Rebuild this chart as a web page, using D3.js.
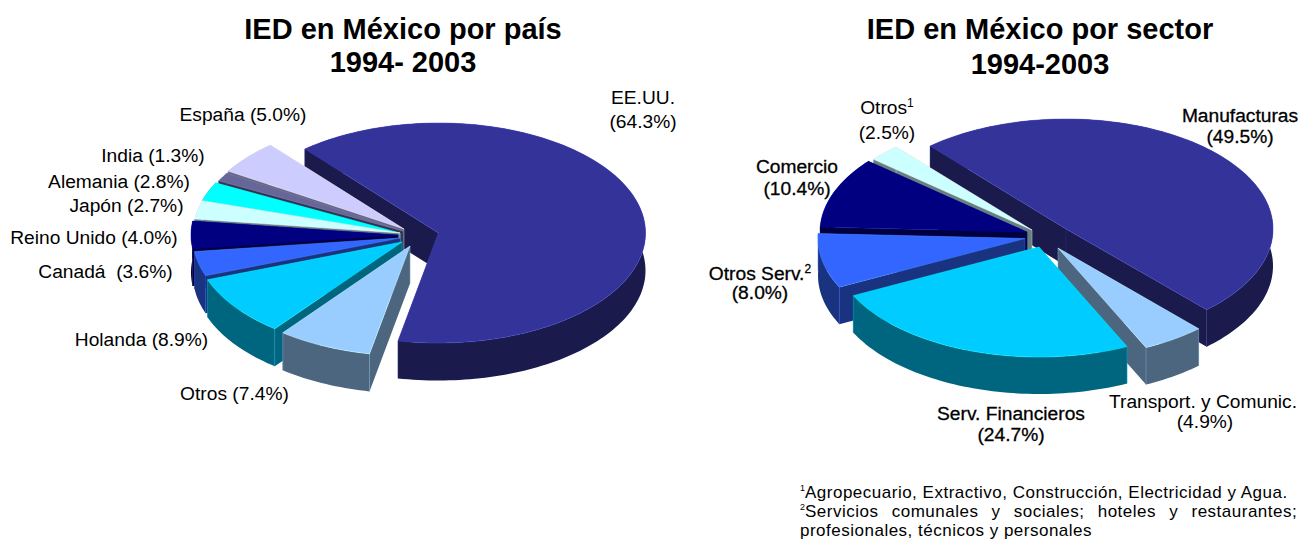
<!DOCTYPE html>
<html>
	<head>
		<script src="https://cdn.jsdelivr.net/npm/d3@7"></script>
		<style>
html, body {
	margin: 0;
	background-color: white;
}

svg {
	display: block;
}

text {
	font-family: "Liberation Sans", Arial, sans-serif;
	fill: black;
	text-anchor: middle;
	white-space: pre;
}

text.title {
	font-size: 29px;
	font-weight: bold;
}

text.label {
	font-size: 19.2px;
}

text.strong {
	stroke: black;
	stroke-width: 0.3px;
}

text.note {
	font-size: 17px;
	letter-spacing: 0.5px;
	text-anchor: start;
}
		</style>
	</head>
	<body>
		<script>

// IED por pais, 1994-2003
var paisNombres = ["EE.UU.", "Otros", "Holanda", "Canadá", "Reino Unido", "Japón", "Alemania", "India", "España"];
var paisValores = [64.3, 7.4, 8.9, 3.6, 4.0, 2.7, 2.8, 1.3, 5.0];

// IED por sector, 1994-2003
var sectorNombres = ["Manufacturas", "Transport. y Comunic.", "Serv. Financieros", "Otros Serv.", "Comercio", "Otros"];
var sectorValores = [49.5, 4.9, 24.7, 8.0, 10.4, 2.5];

var paisTop = ["#333399", "#99ccff", "#00ccff", "#3366ff", "#000080", "#ccffff", "#00ffff", "#666699", "#ccccff"];
var paisSide = ["#1a1a4d", "#4d667f", "#006680", "#1a3380", "#000040", "#668080", "#008080", "#33334d", "#66667f"];
var sectorTop = ["#333399", "#99ccff", "#00ccff", "#3366ff", "#000080", "#ccffff"];
var sectorSide = ["#1a1a4d", "#4d667f", "#006680", "#1a3380", "#000040", "#668080"];

var w = 1301;
var h = 540;

var svg = d3.select("body").append("svg")
	.attr("width", w)
	.attr("height", h);

var line = d3.line();

// one pie: d3.pie gives the angles, the ellipse scales project them
function drawPie(o) {
	var arcs = d3.pie().sort(null)
		.startAngle(o.start * Math.PI / 180)
		.endAngle((o.start + 360) * Math.PI / 180)(o.values);

	var sx = d3.scaleLinear().domain([-1, 1]).range([o.cx - o.rx, o.cx + o.rx]);
	var sy = d3.scaleLinear().domain([-1, 1]).range([o.cy - o.ry, o.cy + o.ry]);

	var g = svg.append("g");

	o.order.forEach(function(i) {
		var a = arcs[i];
		var dx = o.shift[i][0];
		var dy = o.shift[i][1];
		var n = Math.max(2, Math.ceil((a.endAngle - a.startAngle) * 40));
		var rim = d3.range(n + 1).map(function(k) {
			var t = a.startAngle + (a.endAngle - a.startAngle) * k / n;
			return [sx(Math.sin(t)) + dx, sy(-Math.cos(t)) + dy];
		});
		var apex = [o.cx + dx, o.cy + dy];
		var down = function(p) { return [p[0], p[1] + o.depth]; };
		var first = rim[0];
		var last = rim[n];

		var faces = [
			[apex, first, down(first), down(apex)],
			[apex, last, down(last), down(apex)],
			rim.concat(rim.slice().reverse().map(down))
		];
		g.selectAll(null).data(faces).enter().append("path")
			.attr("d", function(d) { return line(d) + "Z"; })
			.style("fill", o.side[i]);

		var edge = d3.color(o.side[i]).brighter(1.2).formatHex();
		g.selectAll(null).data([apex, first, last]).enter().append("path")
			.attr("d", function(d) { return line([d, down(d)]); })
			.style("stroke", edge)
			.style("stroke-width", 0.6)
			.style("fill", "none");

		g.append("path")
			.attr("d", line([apex].concat(rim)) + "Z")
			.style("fill", o.top[i])
			.style("stroke", d3.color(o.top[i]).brighter(0.8).formatHex())
			.style("stroke-width", 0.5);
	});
}

drawPie({
	values: paisValores,
	top: paisTop,
	side: paisSide,
	start: -40.2,
	cx: 438.5, cy: 233, rx: 207, ry: 110, depth: 37.5,
	order: [0, 8, 7, 6, 5, 4, 3, 2, 1],
	shift: [[0, 0], [-28.5, 13], [-36.5, 9], [-38.5, 5], [-40.5, 2], [-38.5, 0], [-38.5, 0], [-35.5, -2], [-34.5, -4]]
});

drawPie({
	values: sectorValores,
	top: sectorTop,
	side: sectorSide,
	start: -41,
	cx: 1066, cy: 229, rx: 207, ry: 110, depth: 37,
	order: [0, 5, 4, 3, 1, 2],
	shift: [[0, 0], [-8, 19], [-27, 18], [-41, 9.5], [-39, 3], [-34, 1]]
});

function pct(v) {
	return "(" + v.toFixed(1) + "%)";
}

function addText(cls, x, y, str) {
	return svg.append("text").attr("class", cls).attr("x", x).attr("y", y).text(str);
}

addText("title", 403, 39, "IED en México por país");
addText("title", 403, 72, "1994- 2003");
addText("title", 1040, 39, "IED en México por sector");
addText("title", 1040, 74, "1994-2003");

// etiquetas del primer pie
addText("label", 643, 104, paisNombres[0]);
addText("label", 643, 128, pct(paisValores[0]));
addText("label", 234.5, 400, paisNombres[1] + " " + pct(paisValores[1]));
addText("label", 141.5, 346, paisNombres[2] + " " + pct(paisValores[2]));
addText("label", 105.5, 278, paisNombres[3] + "  " + pct(paisValores[3]));
addText("label", 94, 244, paisNombres[4] + " " + pct(paisValores[4]));
addText("label", 126.5, 212, paisNombres[5] + " " + pct(paisValores[5]));
addText("label", 119, 188, paisNombres[6] + " " + pct(paisValores[6]));
addText("label", 153, 162, paisNombres[7] + " " + pct(paisValores[7]));
addText("label", 243, 121, paisNombres[8] + " " + pct(paisValores[8]));

// etiquetas del segundo pie
function sup(t, str) {
	t.append("tspan").attr("dy", -7).style("font-size", "12px").text(str);
}

addText("label strong", 1240, 122, sectorNombres[0]);
addText("label strong", 1240, 143, pct(sectorValores[0]));
addText("label", 1203, 408, sectorNombres[1]);
addText("label", 1205, 428, pct(sectorValores[1]));
addText("label strong", 1011, 420, sectorNombres[2]);
addText("label strong", 1011, 441, pct(sectorValores[2]));
sup(addText("label strong", 760, 280, sectorNombres[3]), "2");
addText("label strong", 760, 299, pct(sectorValores[3]));
addText("label strong", 797, 173, sectorNombres[4]);
addText("label strong", 797, 195, pct(sectorValores[4]));
sup(addText("label", 887, 114, sectorNombres[5]), "1");
addText("label", 887, 139, pct(sectorValores[5]));

// notas
addText("note", 800, 491, "1").style("font-size", "9px");
addText("note", 805, 498, "Agropecuario, Extractivo, Construcción, Electricidad y Agua.");
addText("note", 800, 510, "2").style("font-size", "9px");
addText("note", 805, 517, "Servicios comunales y sociales; hoteles y restaurantes;").style("word-spacing", "8px");
addText("note", 800, 536, "profesionales, técnicos y personales");

		</script>
	</body>
</html>
